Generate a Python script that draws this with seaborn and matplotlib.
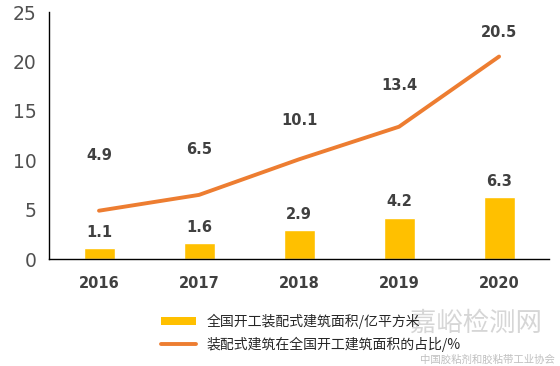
import numpy as np
import pandas as pd
import seaborn as sns
import matplotlib.pyplot as plt
from matplotlib.patches import Patch
from matplotlib.lines import Line2D

# data
years = ["2016", "2017", "2018", "2019", "2020"]
area = [1.1, 1.6, 2.9, 4.2, 6.3]          # 亿平方米
share = [4.9, 6.5, 10.1, 13.4, 20.5]      # %
bar_label = "全国开工装配式建筑面积/亿平方米"
line_label = "装配式建筑在全国开工建筑面积的占比/%"

# label offsets above the line points (points), as in the original
line_lbl_off = [40, 33, 28, 30, 17]

sns.set_theme(style="white")
plt.rcParams['font.family'] = ['Noto Sans CJK SC', 'DejaVu Sans']

df = pd.DataFrame({"year": years, "area": area, "share": share})
df["pos"] = np.arange(len(df))

bar_color = "#FFC000"
line_color = "#ED7D31"
txt_color = "#404040"

fig = plt.figure(figsize=(5.6, 3.66), dpi=100)
ax = fig.add_axes([0.0875, 0.292, 0.893, 0.675])

sns.barplot(data=df, x="year", y="area", color=bar_color, width=0.31,
            saturation=1, ax=ax)
sns.lineplot(data=df, x="pos", y="share", color=line_color, linewidth=2.8,
             ax=ax, legend=False)

ax.set_xlim(-0.5, len(years) - 0.5)
ax.set_ylim(0, 25)
ax.set_yticks(range(0, 26, 5))
ax.set_xlabel("")
ax.set_ylabel("")

# bar value labels
for i, v in enumerate(area):
    ax.annotate(f"{v}", (i, v), xytext=(0, 6), textcoords="offset points",
                ha="center", va="bottom", fontsize=10.5, fontweight="bold",
                color=txt_color, family="DejaVu Sans")
# line value labels
for i, v in enumerate(share):
    ax.annotate(f"{v}", (i, v), xytext=(0, line_lbl_off[i]), textcoords="offset points",
                ha="center", va="center", fontsize=10.5, fontweight="bold",
                color=txt_color, family="DejaVu Sans")

# spines and ticks
for s in ["top", "right"]:
    ax.spines[s].set_visible(False)
for s in ["left", "bottom"]:
    ax.spines[s].set_color("#000000")
    ax.spines[s].set_linewidth(1.0)
ax.set_xticks(np.arange(len(years)))
ax.set_xticklabels(years, fontsize=10.5, fontweight="bold", color=txt_color,
                   family="DejaVu Sans")
ax.set_xticks(np.arange(len(years) + 1) - 0.5, minor=True)
ax.tick_params(axis="x", which="major", length=0, pad=12)
ax.tick_params(axis="x", which="minor", length=5, width=1, color="#000000",
               direction="out")
ax.tick_params(axis="y", length=5, width=1, color="#000000", direction="out",
               labelsize=13.5, labelcolor="#505050", pad=4)
for t in ax.get_yticklabels():
    t.set_family("DejaVu Sans")

handles = [Patch(facecolor=bar_color, edgecolor="none"),
           Line2D([], [], color=line_color, linewidth=2.8)]
fig.legend(handles, [bar_label, line_label], loc="lower left",
           bbox_to_anchor=(0.27, 0.012), frameon=False, fontsize=10,
           handlelength=2.5, handleheight=0.5, labelspacing=0.55,
           borderaxespad=0.3)

# watermark
fig.text(0.732, 0.118, "嘉峪检测网", fontsize=19, color="#cfcfcf",
         alpha=0.85, ha="left", va="center")
fig.text(0.99, 0.004, "中国胶粘剂和胶粘带工业协会", fontsize=7.5, color="#b0b0b0",
         alpha=0.8, ha="right", va="bottom")

fig.savefig("out.png", dpi=100)
